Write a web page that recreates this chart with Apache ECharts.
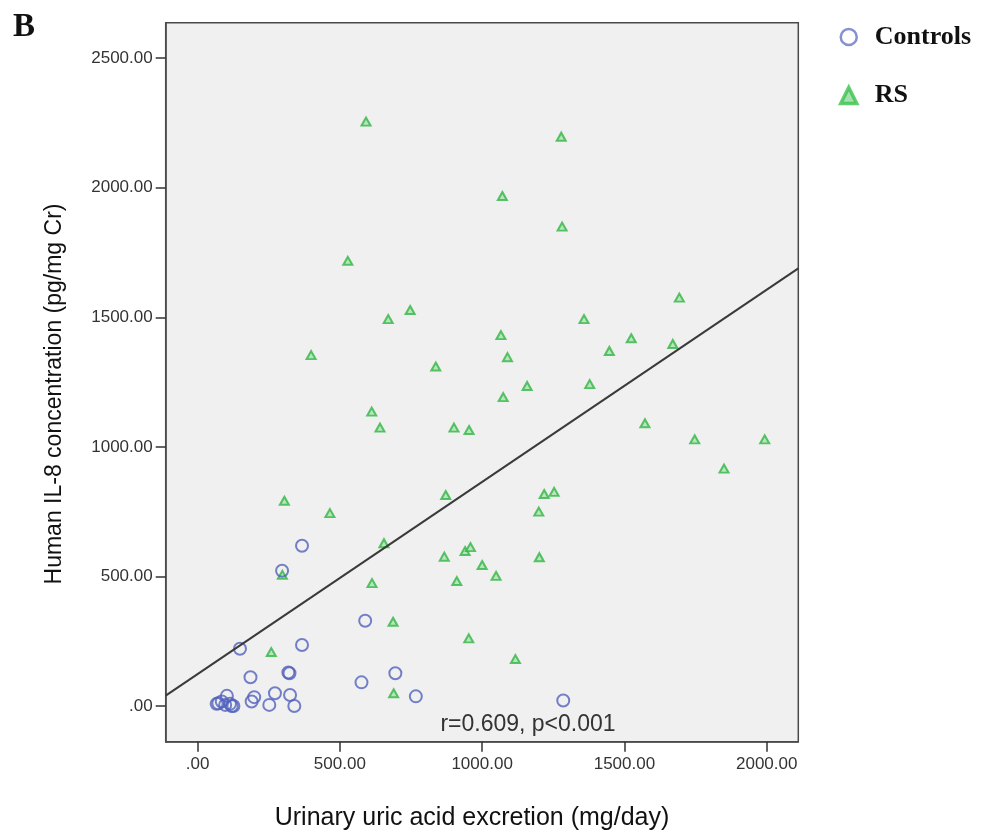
<!DOCTYPE html>
<html>
<head>
<meta charset="utf-8">
<title>IL-8 vs urinary uric acid</title>
<script src="https://cdn.jsdelivr.net/npm/echarts@6/dist/echarts.min.js"></script>
<style>
  html, body { margin: 0; padding: 0; background: #fff; }
  #chart { width: 988px; height: 837px; }
</style>
</head>
<body>
<div id="chart"></div>
<script>
// Urinary uric acid excretion (mg/day) vs human IL-8 concentration (pg/mg Cr)
const controls = [
  [367, 618], [297, 522], [589, 329], [149, 221], [367, 235],
  [186, 111], [319, 129], [323, 126], [576, 91], [695, 126],
  [767, 37], [272, 49], [325, 42], [199, 34], [190, 17],
  [252, 4], [340, 0], [1285, 21],
  [103, 39], [73, 10], [85, 17], [97, 4], [120, 0], [126, 0], [67, 8], [114, 8]
];

const rs = [
  [592, 2255], [1278, 2197], [1071, 1968], [1281, 1850], [528, 1718],
  [1693, 1576], [747, 1528], [670, 1493], [1358, 1493], [1066, 1431],
  [1524, 1419], [399, 1354], [1089, 1346], [1447, 1370], [1670, 1397],
  [837, 1310], [1158, 1235], [1378, 1242], [1074, 1192], [612, 1136],
  [641, 1074], [901, 1074], [954, 1065], [1572, 1091], [1747, 1029],
  [1993, 1029], [1850, 916], [305, 792], [465, 744], [872, 814],
  [1218, 818], [1253, 826], [1199, 750], [655, 628], [867, 576],
  [940, 598], [959, 613], [1000, 544], [911, 482], [1049, 502],
  [1201, 574], [613, 474], [687, 325], [953, 261], [1117, 181],
  [259, 208], [689, 49], [298, 506]
];

// Least-squares fit line: IL-8 = intercept + slope * uric acid
const fitIntercept = 122.7;
const fitSlope = 0.742;

const xTicks = [0, 500, 1000, 1500, 2000];
const yTicks = [0, 500, 1000, 1500, 2000, 2500];
const xRange = [-112, 2111];
const yRange = [-138, 2637];

const statsText = 'r=0.609, p<0.001';
const xTitle = 'Urinary uric acid excretion (mg/day)';
const yTitle = 'Human IL-8 concentration (pg/mg Cr)';
const panelLetter = 'B';
const seriesNames = ['Controls', 'RS'];

const fitLine = xRange.map(x => [x, fitIntercept + fitSlope * x]);

const fmt = v => (v === 0 ? '.00' : v.toFixed(2));
const sans = '"Liberation Sans", Arial, sans-serif';
const serif = '"Liberation Serif", "Times New Roman", serif';

const blue = '#5263bd';
const green = '#33b545';

const chart = echarts.init(document.getElementById('chart'), null, { renderer: 'canvas' });

chart.setOption({
  animation: false,
  backgroundColor: '#ffffff',
  grid: {
    left: 165.7, top: 22.7, width: 632.6, height: 719,
    show: true, backgroundColor: '#f0f0f0',
    borderColor: '#4a4a4a', borderWidth: 1.5
  },
  xAxis: {
    type: 'value', min: xRange[0], max: xRange[1],
    splitLine: { show: false },
    axisLine: { show: true, onZero: false, lineStyle: { color: '#4a4a4a', width: 1.5 } },
    axisTick: { show: true, customValues: xTicks, length: 10, lineStyle: { color: '#333', width: 1.5 } },
    axisLabel: { customValues: xTicks, formatter: fmt, margin: 14,
      fontFamily: sans, fontSize: 17, color: '#333' }
  },
  yAxis: {
    type: 'value', min: yRange[0], max: yRange[1],
    splitLine: { show: false },
    axisLine: { show: true, onZero: false, lineStyle: { color: '#4a4a4a', width: 1.5 } },
    axisTick: { show: true, customValues: yTicks, length: 10, lineStyle: { color: '#333', width: 1.5 } },
    axisLabel: { customValues: yTicks, formatter: fmt, margin: 13,
      fontFamily: sans, fontSize: 17, color: '#333' }
  },
  legend: {
    data: [
      { name: seriesNames[0], itemStyle: { borderWidth: 2.5, borderColor: '#6676c8' } },
      { name: seriesNames[1], itemStyle: { borderWidth: 3.5, color: '#8fd898', borderColor: '#3cc04e' } }
    ],
    orient: 'vertical',
    left: 834, top: 19,
    itemWidth: 16, itemHeight: 16, itemGap: 32.5,
    formatter: name => '{p|}{t|' + name + '}',
    textStyle: {
      rich: {
        p: { width: 13, lineHeight: 30 },
        t: { fontFamily: serif, fontWeight: 'bold', fontSize: 26, color: '#111', lineHeight: 30 }
      }
    }
  },
  series: [
    {
      name: 'RS', type: 'scatter', data: rs,
      symbol: 'triangle', symbolSize: [9, 8],
      itemStyle: { color: '#a9e3b0', borderColor: green, borderWidth: 2 },
      z: 2
    },
    {
      name: 'Controls', type: 'scatter', data: controls,
      symbol: 'circle', symbolSize: 12,
      itemStyle: { color: 'rgba(0,0,0,0)', borderColor: blue, borderWidth: 2 },
      z: 3
    },
    {
      name: 'fit', type: 'line', data: fitLine,
      showSymbol: false, silent: true,
      lineStyle: { color: '#3a3a3a', width: 2 },
      z: 4
    }
  ],
  graphic: [
    { type: 'text', x: 13, y: 27, style: { text: panelLetter, font: 'bold 33px ' + serif, fill: '#111', align: 'left', verticalAlign: 'middle' } },
    { type: 'text', x: 528, y: 725, style: { text: statsText, font: '23px ' + sans, fill: '#333', align: 'center', verticalAlign: 'middle' }, z: 10 },
    { type: 'text', x: 472, y: 818, style: { text: xTitle, font: '25px ' + sans, fill: '#111', align: 'center', verticalAlign: 'middle' } },
    { type: 'text', x: 55, y: 394, rotation: Math.PI / 2, style: { text: yTitle, font: '23px ' + sans, fill: '#111', align: 'center', verticalAlign: 'middle' } }
  ]
});
</script>
</body>
</html>
